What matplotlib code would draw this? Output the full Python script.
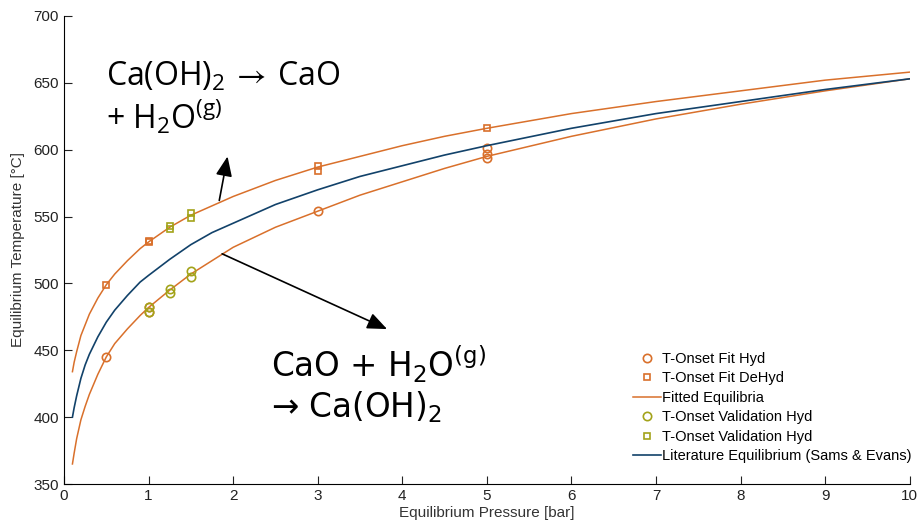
import numpy as np
import matplotlib.pyplot as plt

plt.rcParams['font.family'] = ['Liberation Sans Narrow', 'Liberation Sans', 'DejaVu Sans']
plt.rcParams['mathtext.default'] = 'regular'

# equilibrium curves
p_curve = [0.1, 0.12, 0.15, 0.2, 0.25, 0.3, 0.4, 0.5, 0.6, 0.75, 0.9, 1, 1.25, 1.5, 1.75,
           2, 2.5, 3, 3.5, 4, 4.5, 5, 6, 7, 8, 9, 10]
t_fit_dehyd = [434, 441, 449, 461, 469, 477, 489, 499, 507, 517, 526, 531, 542, 551, 558,
               565, 577, 587, 595, 603, 610, 616, 627, 636, 644, 652, 658]
t_fit_hyd = [365, 373, 384, 398, 408, 417, 432, 445, 455, 466, 476, 482, 495, 507, 517,
             527, 542, 554, 566, 576, 586, 595, 610, 623, 634, 644, 653]
t_lit = [400, 407, 416, 429, 439, 447, 460, 471, 480, 491, 501, 506, 518, 529, 538,
         545, 559, 570, 580, 588, 596, 603, 616, 627, 636, 645, 653]

# onset points
p_hyd = [0.5, 1.0, 1.0, 3.0, 5.0, 5.0, 5.0]
t_hyd = [445, 482, 479, 554, 601, 597, 594]
p_dehyd = [0.5, 1.0, 1.0, 3.0, 3.0, 5.0]
t_dehyd = [499, 532, 531, 588, 584, 616]
p_val_hyd = [1.0, 1.0, 1.25, 1.25, 1.5, 1.5]
t_val_hyd = [482, 479, 496, 493, 509, 505]
p_val_dehyd = [1.25, 1.25, 1.5, 1.5]
t_val_dehyd = [543, 541, 553, 549]

orange = '#D9702B'
green = '#A3A31A'
blue = '#12426A'

fig = plt.figure(figsize=(9.18, 5.32), dpi=100)
ax = fig.add_axes([0.0697, 0.0902, 0.9213, 0.8798])

ms = 6
ax.plot(p_hyd, t_hyd, 'o', mfc='none', mec=orange, ms=ms, mew=1.2, label='T-Onset Fit Hyd')
ax.plot(p_dehyd, t_dehyd, 's', mfc='none', mec=orange, ms=ms - 1, mew=1.2, label='T-Onset Fit DeHyd')
ax.plot(p_curve, t_fit_hyd, '-', color=orange, lw=1.1, label='Fitted Equilibria')
ax.plot(p_curve, t_fit_dehyd, '-', color=orange, lw=1.1)
ax.plot(p_val_hyd, t_val_hyd, 'o', mfc='none', mec=green, ms=ms, mew=1.2, label='T-Onset Validation Hyd')
ax.plot(p_val_dehyd, t_val_dehyd, 's', mfc='none', mec=green, ms=ms - 1, mew=1.2, label='T-Onset Validation Hyd')
ax.plot(p_curve, t_lit, '-', color=blue, lw=1.2, label='Literature Equilibrium (Sams & Evans)')

ax.set_xlim(0, 10)
ax.set_ylim(350, 700)
ax.set_xticks(range(0, 11))
ax.set_yticks(range(350, 701, 50))
ax.tick_params(direction='in', length=6, labelsize=11, colors='#222222')
ax.spines['top'].set_visible(False)
ax.spines['right'].set_visible(False)
ax.set_xlabel('Equilibrium Pressure [bar]', fontsize=11, color='#333333', labelpad=2)
ax.set_ylabel('Equilibrium Temperature [°C]', fontsize=11, color='#333333', labelpad=6)

leg = ax.legend(loc='lower right', bbox_to_anchor=(1.018, 0.016), frameon=False, fontsize=10.5,
                handlelength=1.9, handletextpad=0.1, labelspacing=0.38)

# reaction annotations
ax.text(0.5, 667, r'Ca(OH)$_2\,\rightarrow\,$CaO' + '\n' + r'+ H$_2$O$^{(g)}$', fontsize=23,
        family=['Open Sans', 'DejaVu Sans'], va='top', ha='left', linespacing=1.15)
ax.text(2.45, 455, r'CaO + H$_2$O$^{(g)}$' + '\n' + '\u2192 Ca(OH)$_2$', fontsize=23.5,
        family=['DejaVu Sans'], va='top', ha='left', linespacing=1.15)

ax.annotate('', xy=(1.94, 597), xytext=(1.83, 560),
            arrowprops=dict(arrowstyle='-|>,head_length=1.2,head_width=0.5', color='black', lw=1.2))
ax.annotate('', xy=(3.85, 465), xytext=(1.84, 523),
            arrowprops=dict(arrowstyle='-|>,head_length=1.2,head_width=0.5', color='black', lw=1.2))

fig.savefig('out.png', dpi=100)
